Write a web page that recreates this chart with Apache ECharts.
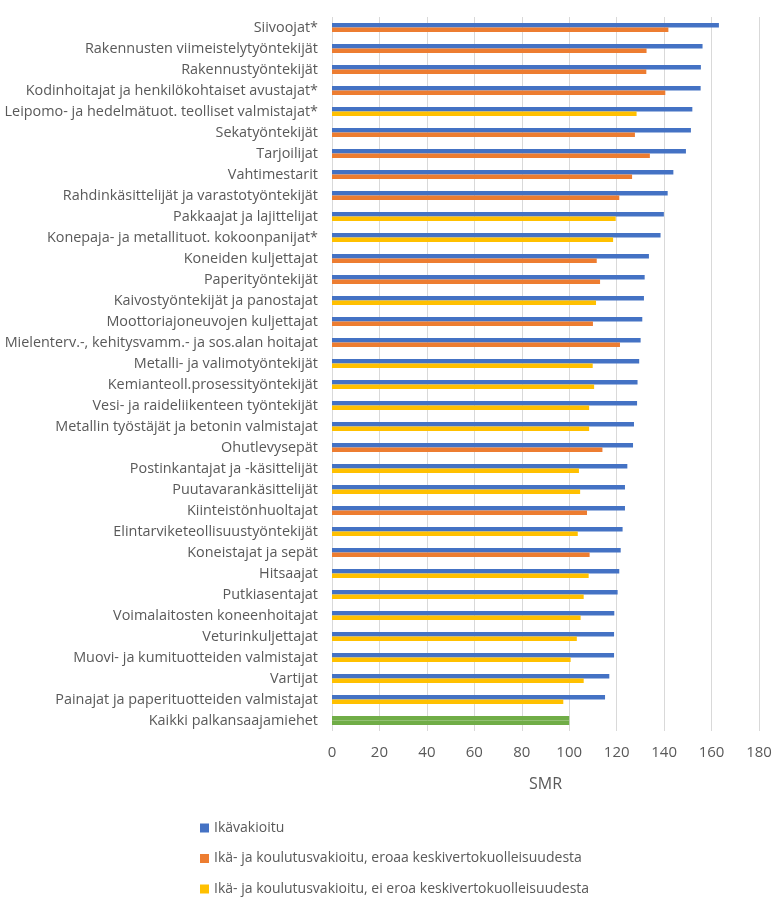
<!DOCTYPE html>
<html>
<head>
<meta charset="utf-8">
<script src="https://cdn.jsdelivr.net/npm/echarts@6/dist/echarts.min.js"></script>
<style>
html,body{margin:0;padding:0;background:#fff;}
#chart{width:779px;height:910px;}
</style>
</head>
<body>
<div id="chart"></div>
<script>
const categories = [
  "Siivoojat*",
  "Rakennusten viimeistelytyöntekijät",
  "Rakennustyöntekijät",
  "Kodinhoitajat ja henkilökohtaiset avustajat*",
  "Leipomo- ja hedelmätuot. teolliset valmistajat*",
  "Sekatyöntekijät",
  "Tarjoilijat",
  "Vahtimestarit",
  "Rahdinkäsittelijät ja varastotyöntekijät",
  "Pakkaajat ja lajittelijat",
  "Konepaja- ja metallituot. kokoonpanijat*",
  "Koneiden kuljettajat",
  "Paperityöntekijät",
  "Kaivostyöntekijät ja panostajat",
  "Moottoriajoneuvojen kuljettajat",
  "Mielenterv.-, kehitysvamm.- ja sos.alan hoitajat",
  "Metalli- ja valimotyöntekijät",
  "Kemianteoll.prosessityöntekijät",
  "Vesi- ja raideliikenteen työntekijät",
  "Metallin työstäjät ja betonin valmistajat",
  "Ohutlevysepät",
  "Postinkantajat ja -käsittelijät",
  "Puutavarankäsittelijät",
  "Kiinteistönhuoltajat",
  "Elintarviketeollisuustyöntekijät",
  "Koneistajat ja sepät",
  "Hitsaajat",
  "Putkiasentajat",
  "Voimalaitosten koneenhoitajat",
  "Veturinkuljettajat",
  "Muovi- ja kumituotteiden valmistajat",
  "Vartijat",
  "Painajat ja paperituotteiden valmistajat",
  "Kaikki palkansaajamiehet"
];
// Ikävakioitu
const ageStd = [163.1,156.2,155.5,155.4,151.9,151.3,149.2,143.9,141.5,139.9,138.5,133.6,131.8,131.5,130.8,130.1,129.5,128.8,128.6,127.3,126.9,124.5,123.5,123.5,122.5,121.7,121.1,120.4,119.0,118.9,118.9,116.9,115.1,100];
// Ikä- ja koulutusvakioitu, eroaa keskivertokuolleisuudesta
const eduDiff = [141.8,132.6,132.5,140.5,null,127.7,134.0,126.5,121.1,null,null,111.6,113.0,null,110.0,121.4,null,null,null,null,114.0,null,null,107.5,null,108.6,null,null,null,null,null,null,null,100];
// Ikä- ja koulutusvakioitu, ei eroa keskivertokuolleisuudesta
const eduSame = [null,null,null,null,128.4,null,null,null,null,119.6,118.5,null,null,111.3,null,null,109.9,110.5,108.4,108.4,null,104.1,104.6,null,103.6,null,108.2,106.1,104.8,103.2,100.6,106.1,97.5,null];
const xTicks = [0,20,40,60,80,100,120,140,160,180];
const seriesNames = ["Ikävakioitu","Ikä- ja koulutusvakioitu, eroaa keskivertokuolleisuudesta","Ikä- ja koulutusvakioitu, ei eroa keskivertokuolleisuudesta"];
const totalLabel = "Kaikki palkansaajamiehet";

const BLUE='#4472C4', ORANGE='#ED7D31', YELLOW='#FFC000', GREEN='#70AD47';
const FONT='Open Sans';
function withTotal(arr){
  return arr.map((v,i)=> categories[i]===totalLabel && v!=null ? {value:v, itemStyle:{color:GREEN}} : v);
}
const chart = echarts.init(document.getElementById('chart'));
chart.setOption({
  animation:false,
  textStyle:{fontFamily:FONT},
  grid:{left:332, right:20, top:17, bottom:179, containLabel:false, outerBoundsMode:'none'},
  xAxis:{
    type:'value', min:xTicks[0], max:xTicks[xTicks.length-1], interval:20,
    name:'SMR', nameLocation:'middle', nameGap:45,
    nameTextStyle:{fontSize:16, color:'#595959', fontFamily:FONT},
    axisLabel:{fontSize:15, color:'#595959', margin:14, fontFamily:FONT},
    axisLine:{show:false}, axisTick:{show:false},
    splitLine:{lineStyle:{color:'#d9d9d9', width:1}}
  },
  yAxis:{
    type:'category', data:categories, inverse:true,
    axisLine:{show:false}, axisTick:{show:false},
    axisLabel:{fontSize:14.4, color:'#595959', margin:14, fontFamily:FONT}
  },
  legend:{
    orient:'vertical', left:195, top:816, itemWidth:9, itemHeight:9, itemGap:16.5,
    icon:'rect',
    textStyle:{fontSize:14, color:'#595959', fontFamily:FONT},
    data:seriesNames
  },
  series:[
    {name:seriesNames[0], type:'bar', data:withTotal(ageStd), itemStyle:{color:BLUE}, barWidth:4.5, barGap:'0%'},
    {name:seriesNames[1], type:'bar', stack:'edu', data:withTotal(eduDiff), itemStyle:{color:ORANGE}, barWidth:4.5},
    {name:seriesNames[2], type:'bar', stack:'edu', data:eduSame, itemStyle:{color:YELLOW}, barWidth:4.5}
  ]
});
</script>
</body>
</html>
